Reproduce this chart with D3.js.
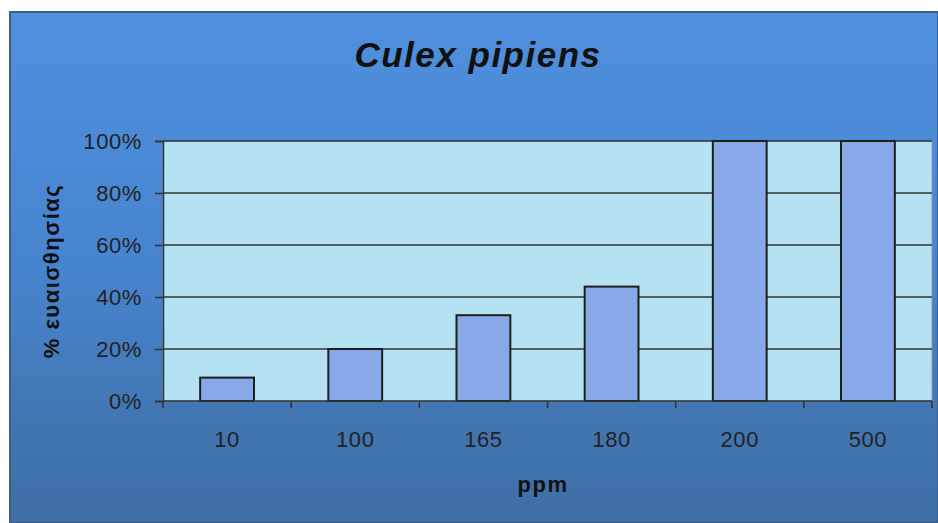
<!DOCTYPE html>
<html>
<head>
<meta charset="utf-8">
<script src="https://cdn.jsdelivr.net/npm/d3@7"></script>
<style>
  body { margin: 0; background: #ffffff; }
  svg { display: block; }
  text { font-family: "Liberation Sans", Arial, sans-serif; }
</style>
</head>
<body>
<div id="chart"></div>
<script>
// chart data
var titleText = "Culex pipiens";
var categories = ["10", "100", "165", "180", "200", "500"];
var values = [0.09, 0.20, 0.33, 0.44, 1.00, 1.00];
var yTicks = [0, 0.2, 0.4, 0.6, 0.8, 1.0];
var xTitle = "ppm";
var yTitle = "% ευαισθησίας";

var svgWidth = 938, svgHeight = 523;
var margin = { top: 141, right: 6, bottom: 122, left: 163 };
var chartWidth = svgWidth - margin.left - margin.right;
var chartHeight = svgHeight - margin.top - margin.bottom;

var svg = d3.select("#chart").append("svg")
  .attr("width", svgWidth)
  .attr("height", svgHeight);

// background gradient
var defs = svg.append("defs");
var grad = defs.append("linearGradient")
  .attr("id", "bg").attr("x1", 0).attr("y1", 0).attr("x2", 0).attr("y2", 1);
grad.append("stop").attr("offset", "0%").attr("stop-color", "#4f90de");
grad.append("stop").attr("offset", "50%").attr("stop-color", "#4784cf");
grad.append("stop").attr("offset", "80%").attr("stop-color", "#4276b2");
grad.append("stop").attr("offset", "100%").attr("stop-color", "#3e6ea5");

svg.append("rect")
  .attr("x", 10).attr("y", 12)
  .attr("width", svgWidth - 10).attr("height", svgHeight - 12)
  .attr("fill", "url(#bg)")
  .attr("stroke", "#3a5f8c").attr("stroke-width", 2);

var chartGroup = svg.append("g")
  .attr("transform", `translate(${margin.left}, ${margin.top})`);

// scales
var xBand = d3.scaleBand()
  .domain(categories)
  .range([0, chartWidth])
  .paddingInner(0.58)
  .paddingOuter(0.29);

var yLinearScale = d3.scaleLinear()
  .domain([0, 1])
  .range([chartHeight, 0]);

// plot area
chartGroup.append("rect")
  .attr("width", chartWidth).attr("height", chartHeight)
  .attr("fill", "#b5e2f3")
  .attr("stroke", "#8a9aa6").attr("stroke-width", 1);

// gridlines
chartGroup.selectAll(".grid")
  .data(yTicks.slice(1))
  .enter()
  .append("line")
  .attr("x1", 0).attr("x2", chartWidth)
  .attr("y1", d => yLinearScale(d)).attr("y2", d => yLinearScale(d))
  .attr("stroke", "#333").attr("stroke-width", 1.5);

// bars
chartGroup.selectAll(".bar")
  .data(values)
  .enter()
  .append("rect")
  .attr("x", (d, i) => xBand(categories[i]))
  .attr("y", d => yLinearScale(d))
  .attr("width", xBand.bandwidth())
  .attr("height", d => chartHeight - yLinearScale(d))
  .attr("fill", "#87a9e7")
  .attr("stroke", "#1e1e1e").attr("stroke-width", 2);

// y axis
var leftAxis = d3.axisLeft(yLinearScale)
  .tickValues(yTicks)
  .tickFormat(d3.format(".0%"))
  .tickSize(8)
  .tickPadding(13);
var yAxis = chartGroup.append("g").call(leftAxis);
yAxis.select(".domain").attr("stroke", "#333").attr("stroke-width", 1.5);
yAxis.selectAll(".tick line").attr("stroke", "#333").attr("stroke-width", 1.5);
yAxis.selectAll("text")
  .attr("font-size", "22px").attr("fill", "#222")
  .attr("letter-spacing", "0.6px")
  .attr("font-family", "Liberation Sans, Arial, sans-serif");

// x axis: ticks on category boundaries
var step = xBand.step();
var xAxis = chartGroup.append("g")
  .attr("transform", `translate(0, ${chartHeight})`);
xAxis.append("line")
  .attr("x1", 0).attr("x2", chartWidth)
  .attr("stroke", "#333").attr("stroke-width", 1.5);
xAxis.selectAll(".xtick")
  .data(d3.range(categories.length + 1))
  .enter()
  .append("line")
  .attr("x1", i => i * step).attr("x2", i => i * step)
  .attr("y1", 0).attr("y2", 7)
  .attr("stroke", "#333").attr("stroke-width", 1.5);
xAxis.selectAll(".xlabel")
  .data(categories)
  .enter()
  .append("text")
  .attr("x", d => xBand(d) + xBand.bandwidth() / 2)
  .attr("y", 46)
  .attr("text-anchor", "middle")
  .attr("font-size", "22px").attr("fill", "#222")
  .attr("letter-spacing", "0.6px")
  .text(d => d);

// title
svg.append("text")
  .attr("x", 478).attr("y", 67)
  .attr("text-anchor", "middle")
  .attr("font-size", "35px")
  .attr("font-weight", "700")
  .attr("font-style", "italic")
  .attr("letter-spacing", "1.5px")
  .attr("fill", "#111")
  .text(titleText);

// x axis title
svg.append("text")
  .attr("x", 543).attr("y", 492)
  .attr("text-anchor", "middle")
  .attr("font-size", "22px")
  .attr("font-weight", "700")
  .attr("letter-spacing", "1.5px")
  .attr("fill", "#111")
  .text(xTitle);

// y axis title
svg.append("text")
  .attr("transform", "translate(59, 271) rotate(-90)")
  .attr("text-anchor", "middle")
  .attr("font-size", "22px")
  .attr("font-weight", "700")
  .attr("letter-spacing", "1.5px")
  .attr("fill", "#111")
  .text(yTitle);
</script>
</body>
</html>
